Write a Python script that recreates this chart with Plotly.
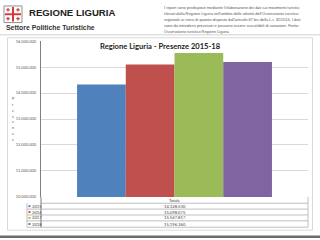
import plotly.graph_objects as go

W, H = 320, 240

# ---- data ----
years = ["2015", "2016", "2017", "2018"]
presenze = [14328530, 15098075, 15547817, 15196360]
colors = ["#4F81BD", "#C0504D", "#9BBB59", "#8064A2"]
category = ["Totale"]
y_ticks = [10000000, 11000000, 12000000, 13000000, 14000000, 15000000, 16000000]

title = "Regione Liguria - Presenze 2015-18"
y_title = "Presenze"
note_lines = [
    "I report sono predisposti mediante l'elaborazione dei dati sui movimenti turistici",
    "rilevati dalla Regione Liguria nell'ambito delle attività dell'Osservatorio turistico",
    "regionale ai sensi di quanto disposto dall'articolo 67 bis della L.r. 32/2014. I dati",
    "sono da intendersi provvisori e possono essere suscettibili di variazioni. Fonte:",
    "Osservatorio turistico Regione Liguria",
]


def fmt(v):
    return f"{v:,}".replace(",", ".")


def px(x):
    return x / W


def py(y):
    return 1 - y / H


PL, PR, PT, PB = 41, 308, 39, 198

fig = go.Figure()
for yr, v, c in zip(years, presenze, colors):
    fig.add_trace(go.Bar(x=category, y=[v], name=yr, marker=dict(color=c, line=dict(width=0)),
                         showlegend=False))

shapes = []
ann = []

# page header
shapes.append(dict(type="line", xref="paper", yref="paper", x0=0, x1=1, y0=py(32.5), y1=py(32.5),
                   line=dict(color="#D0D0D0", width=1)))
# logo (crest)
shapes.append(dict(type="rect", xref="paper", yref="paper", x0=px(4), x1=px(22), y0=py(3), y1=py(20),
                   line=dict(color="#909090", width=1), fillcolor="white"))
for (x0, x1, y0, y1) in [(12, 14, 4, 19), (5, 21, 10.5, 12.5)]:
    shapes.append(dict(type="rect", xref="paper", yref="paper", x0=px(x0), x1=px(x1), y0=py(y0), y1=py(y1),
                       line=dict(width=0), fillcolor="#D43A3A"))
for (cx, cy) in [(8, 7), (18, 7), (8, 16), (18, 16)]:
    shapes.append(dict(type="rect", xref="paper", yref="paper", x0=px(cx - 1.8), x1=px(cx + 1.8),
                       y0=py(cy - 0.6), y1=py(cy + 0.6), line=dict(width=0), fillcolor="#D43A3A"))
    shapes.append(dict(type="rect", xref="paper", yref="paper", x0=px(cx - 0.6), x1=px(cx + 0.6),
                       y0=py(cy - 1.8), y1=py(cy + 1.8), line=dict(width=0), fillcolor="#D43A3A"))

ann.append(dict(text="<b>REGIONE LIGURIA</b>", x=px(27), y=py(9.5), xref="paper", yref="paper",
                xanchor="left", yanchor="middle", showarrow=False,
                font=dict(family="Liberation Sans", size=9.6, color="#222")))
ann.append(dict(text="<b>Settore Politiche Turistiche</b>", x=px(4), y=py(25.5), xref="paper", yref="paper",
                xanchor="left", yanchor="middle", showarrow=False,
                font=dict(family="Liberation Sans", size=6.9, color="#333")))
for i, line in enumerate(note_lines):
    ann.append(dict(text=line, x=px(163), y=py(5 + 6 * i), xref="paper", yref="paper",
                    xanchor="left", yanchor="middle", showarrow=False, borderpad=0,
                    font=dict(family="Liberation Sans", size=3.9, color="#555")))

# chart frame
shapes.append(dict(type="rect", xref="paper", yref="paper", x0=px(7.5), x1=px(312.5), y0=py(35.5), y1=py(232),
                   line=dict(color="#D9D9D9", width=1), fillcolor="rgba(0,0,0,0)", layer="below"))
# bottom dark bar
shapes.append(dict(type="rect", xref="paper", yref="paper", x0=0, x1=1, y0=py(240), y1=py(237.5),
                   line=dict(width=0), fillcolor="#6B6B6B"))

# chart title
ann.append(dict(text=f"<b>{title}</b>", x=px(160), y=py(44), xref="paper", yref="paper",
                xanchor="center", yanchor="middle", showarrow=False,
                font=dict(family="Lato", size=7.6, color="#222")))
# y title stacked letters
for i, ch in enumerate(y_title):
    ann.append(dict(text=ch, x=px(13), y=py(98 + 5.86 * i), xref="paper", yref="paper",
                    xanchor="center", yanchor="middle", showarrow=False, borderpad=0,
                    font=dict(family="Lato", size=3.8, color="#555")))

# data table
row_y = [204.5, 210.5, 216.5, 222.5, 229]
for yy in row_y[:-1]:
    shapes.append(dict(type="line", xref="paper", yref="paper", x0=px(27 if yy > 205 else PL), x1=px(PR),
                       y0=py(yy), y1=py(yy), line=dict(color="#BFBFBF", width=1)))
shapes.append(dict(type="line", xref="paper", yref="paper", x0=px(27), x1=px(PR),
                   y0=py(229), y1=py(229), line=dict(color="#BFBFBF", width=1)))
shapes.append(dict(type="line", xref="paper", yref="paper", x0=px(27), x1=px(27),
                   y0=py(204.5), y1=py(229), line=dict(color="#BFBFBF", width=1)))
shapes.append(dict(type="line", xref="paper", yref="paper", x0=px(PR), x1=px(PR),
                   y0=py(PB), y1=py(229), line=dict(color="#BFBFBF", width=1)))
shapes.append(dict(type="line", xref="paper", yref="paper", x0=px(PL), x1=px(PL),
                   y0=py(PB), y1=py(229), line=dict(color="#7F7F7F", width=1)))

ann.append(dict(text=category[0], x=px((PL + PR) / 2), y=py(201.3), xref="paper", yref="paper",
                xanchor="center", yanchor="middle", showarrow=False, borderpad=0,
                font=dict(family="Lato", size=4.2, color="#444")))
for i, (yr, v, c) in enumerate(zip(years, presenze, colors)):
    yc = (row_y[i] + row_y[i + 1]) / 2
    shapes.append(dict(type="rect", xref="paper", yref="paper", x0=px(28.5), x1=px(30.5),
                       y0=py(yc - 1), y1=py(yc + 1), line=dict(width=0), fillcolor=c))
    ann.append(dict(text=yr, x=px(31), y=py(yc), xref="paper", yref="paper",
                    xanchor="left", yanchor="middle", showarrow=False, borderpad=0,
                    font=dict(family="Lato", size=4.2, color="#444")))
    ann.append(dict(text=fmt(v), x=px((PL + PR) / 2), y=py(yc), xref="paper", yref="paper",
                    xanchor="center", yanchor="middle", showarrow=False, borderpad=0,
                    font=dict(family="Lato", size=4.2, color="#444")))

fig.update_layout(
    width=W, height=H,
    margin=dict(l=0, r=0, t=0, b=0),
    paper_bgcolor="white", plot_bgcolor="white",
    barmode="group", bargap=0.27, bargroupgap=0,
    separators=",.",
    showlegend=False,
    shapes=shapes,
    annotations=ann,
    xaxis=dict(domain=[px(PL), px(PR)], showticklabels=False, showgrid=False, zeroline=False,
               showline=False, fixedrange=True),
    yaxis=dict(domain=[py(PB), py(PT)], range=[10000000, 16000000], tickvals=y_ticks,
               tickformat=",d", showgrid=True, gridcolor="#D9D9D9", gridwidth=1,
               showline=True, linecolor="#7F7F7F", linewidth=1, zeroline=False,
               ticks="", ticklabelstandoff=3,
               tickfont=dict(family="Lato", size=4.0, color="#595959")),
)

fig.write_html("out.html")
